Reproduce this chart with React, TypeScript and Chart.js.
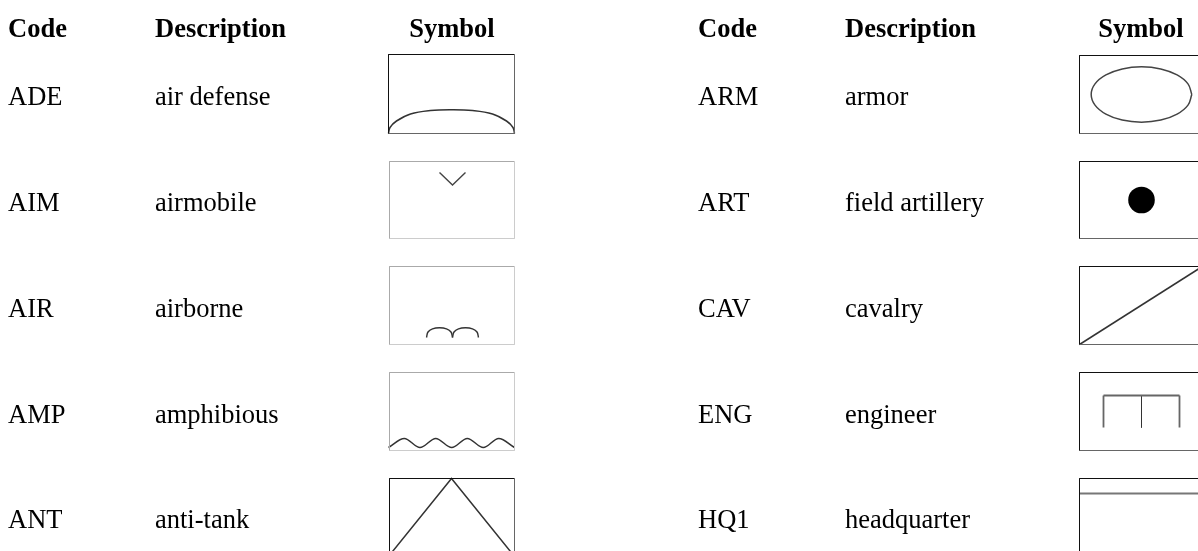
import React, { useEffect, useRef } from "react";
import { Chart, registerables } from "chart.js";

Chart.register(...registerables);

// ---------- table content ----------
const headers = ["Code", "Description", "Symbol"];
const leftCodes = ["ADE", "AIM", "AIR", "AMP", "ANT"];
const leftDescriptions = ["air defense", "airmobile", "airborne", "amphibious", "anti-tank"];
const rightCodes = ["ARM", "ART", "CAV", "ENG", "HQ1"];
const rightDescriptions = ["armor", "field artillery", "cavalry", "engineer", "headquarter"];

// ---------- symbol strokes, in box units (126 x 78) ----------
type P = [number, number];
const adeArc: P[] = [[0, 79], [1.5, 73], [8, 66.5], [22, 59.5], [42, 56], [63, 55.2], [84, 56], [104, 59.5], [118, 66.5], [124.5, 73], [126, 79]];
const aimChevron: P[] = [[51, 11], [64, 23.5], [77, 11]];
const airLeftArc: P[] = [[38, 71], [39.5, 65.5], [44, 62.3], [51, 61.2], [58, 62.3], [62.5, 65.5], [64, 71]];
const airRightArc: P[] = [[64, 71], [65.5, 65.5], [70, 62.3], [77, 61.2], [84, 62.3], [88.5, 65.5], [90, 71]];
const ampWave: P[] = [[0, 75], [15.8, 66], [31.5, 75], [47.2, 66], [63.2, 75], [78.8, 66], [94.8, 75], [110.2, 66], [126, 75]];
const antPeak: P[] = [[0, 78], [63, 0], [126, 78]];
const armOval: P[] = [[112.3, 39], [108.5, 49.6], [97.6, 58.6], [81.3, 64.6], [62, 66.7], [42.7, 64.6], [26.4, 58.6], [15.5, 49.6], [11.7, 39], [15.5, 28.4], [26.4, 19.4], [42.7, 13.4], [62, 11.3], [81.3, 13.4], [97.6, 19.4], [108.5, 28.4], [112.3, 39]];
const artDot: P[] = [[62, 38.5]];
const cavDiagonal: P[] = [[0, 78], [126, -2]];
const engBar: P[] = [[24, 23], [100, 23]];
const engTeeth: P[][] = [[[24, 23], [24, 55]], [[62, 23], [62, 55]], [[100, 23], [100, 55]]];
const hqBar: P[] = [[0, 15], [126, 15]];

// ---------- layout ----------
const WIDTH = 1198;
const HEIGHT = 551;
const BOX_W = 126;
const leftBoxX = 388.5;
const rightBoxX = 1079.5;
const leftTops = [54.5, 161.5, 266.5, 372.5, 478.5];
const leftBottoms = [133.5, 238.5, 344.5, 450.5, 556.5];
const leftInsets = [0, 1, 1, 1, 1];
const rightTops = [55.5, 161.5, 266.5, 372.5, 478.5];
const rightBottoms = [133.5, 238.5, 344.5, 450.5, 556.5];
const headerBaseline = 37;
const rowBaselines = [105, 211, 317, 423, 528];
const leftCols = [8, 155, 452];
const rightCols = [698, 845, 1141];

const DARK = "#111111";
const SOFT = "#666666";
const PALE_A = "#aaaaaa";
const PALE_B = "#cccccc";

function stroke(points: P[], ox: number, oy: number, color: string, width: number, curve = "") {
  const ds: any = {
    data: points.map(([x, y]) => ({ x: ox + x, y: oy + y })),
    showLine: true,
    borderColor: color,
    borderWidth: width,
    pointRadius: 0,
    fill: false,
    tension: 0,
  };
  if (curve === "monotone") ds.cubicInterpolationMode = "monotone";
  if (curve === "round") ds.tension = 0.4;
  return ds;
}

function box(ox: number, top: number, bottom: number, tl: string, br: string, inset = 0) {
  const h = bottom - top;
  return [
    stroke([[BOX_W, 0], [BOX_W, h]], ox, top, br, 1),
    stroke([[inset, h], [BOX_W, h]], ox, top, br, 1),
    stroke([[inset, 0], [BOX_W, 0]], ox, top, tl, 1),
    stroke([[inset, 0], [inset, h]], ox, top, tl, 1),
  ];
}

function buildDatasets() {
  const out: any[] = [];
  const L = leftBoxX;
  const R = rightBoxX;
  out.push(...box(L, leftTops[0], leftBottoms[0], DARK, SOFT, leftInsets[0]));
  out.push(...box(L, leftTops[1], leftBottoms[1], PALE_A, PALE_B, leftInsets[1]));
  out.push(...box(L, leftTops[2], leftBottoms[2], PALE_A, PALE_B, leftInsets[2]));
  out.push(...box(L, leftTops[3], leftBottoms[3], PALE_A, PALE_B, leftInsets[3]));
  out.push(...box(L, leftTops[4], leftBottoms[4], DARK, SOFT, leftInsets[4]));
  rightTops.forEach((t, i) => out.push(...box(R, t, rightBottoms[i], DARK, SOFT)));

  out.push(stroke(adeArc, L, leftTops[0], "#333333", 1.5, "round"));
  out.push(stroke(aimChevron, L, leftTops[1], "#444444", 1.4));
  out.push(stroke(airLeftArc, L, leftTops[2], "#333333", 1.4, "round"));
  out.push(stroke(airRightArc, L, leftTops[2], "#333333", 1.4, "round"));
  out.push(stroke(ampWave, L, leftTops[3], "#333333", 1.5, "monotone"));
  out.push(stroke(antPeak, L, leftTops[4], "#333333", 1.5));

  out.push(stroke(armOval, R, rightTops[0], "#444444", 1.5, "round"));
  out.push({
    ...stroke(artDot, R, rightTops[1], "#000000", 1),
    showLine: false,
    pointRadius: 13.3,
    pointBackgroundColor: "#000000",
    pointBorderColor: "#000000",
    pointBorderWidth: 0,
  });
  out.push(stroke(cavDiagonal, R, rightTops[2], "#333333", 1.5));
  out.push(stroke(engBar, R, rightTops[3], "#666666", 1.8));
  engTeeth.forEach((t, i) => out.push(stroke(t, R, rightTops[3], i === 1 ? "#333333" : "#666666", i === 1 ? 1 : 1.8)));
  out.push(stroke(hqBar, R, rightTops[4], "#777777", 2));
  return out;
}

const tableText = {
  id: "tableText",
  afterDatasetsDraw(chart: any) {
    const { ctx, scales } = chart;
    const put = (s: string, x: number, y: number, bold: boolean, align: CanvasTextAlign) => {
      ctx.font = `${bold ? "bold " : ""}26.5px "Liberation Serif", "Times New Roman", serif`;
      ctx.textAlign = align;
      ctx.textBaseline = "alphabetic";
      ctx.fillStyle = "#000000";
      ctx.fillText(s, scales.x.getPixelForValue(x), scales.y.getPixelForValue(y));
    };
    ctx.save();
    [leftCols, rightCols].forEach((cols) => {
      headers.forEach((h, i) => put(h, cols[i], headerBaseline, true, i === 2 ? "center" : "left"));
    });
    rowBaselines.forEach((y, i) => {
      put(leftCodes[i], leftCols[0], y, false, "left");
      put(leftDescriptions[i], leftCols[1], y, false, "left");
      put(rightCodes[i], rightCols[0], y, false, "left");
      put(rightDescriptions[i], rightCols[1], y, false, "left");
    });
    ctx.restore();
  },
};

export default function App() {
  const ref = useRef<HTMLCanvasElement>(null);
  useEffect(() => {
    if (!ref.current) return;
    const chart = new Chart(ref.current, {
      type: "scatter",
      data: { datasets: buildDatasets() },
      options: {
        animation: false,
        responsive: false,
        maintainAspectRatio: false,
        layout: { padding: 0, autoPadding: false },
        plugins: { legend: { display: false }, tooltip: { enabled: false }, title: { display: false } },
        events: [],
        scales: {
          x: { type: "linear", min: 0, max: WIDTH, display: false },
          y: { type: "linear", min: 0, max: HEIGHT, reverse: true, display: false },
        },
      },
      plugins: [tableText],
    } as any);
    return () => chart.destroy();
  }, []);
  return (
    <div style={{ position: "fixed", left: 0, top: 0, width: WIDTH, height: HEIGHT, background: "#ffffff", overflow: "hidden" }}>
      <canvas ref={ref} width={WIDTH} height={HEIGHT} style={{ display: "block" }} />
    </div>
  );
}
